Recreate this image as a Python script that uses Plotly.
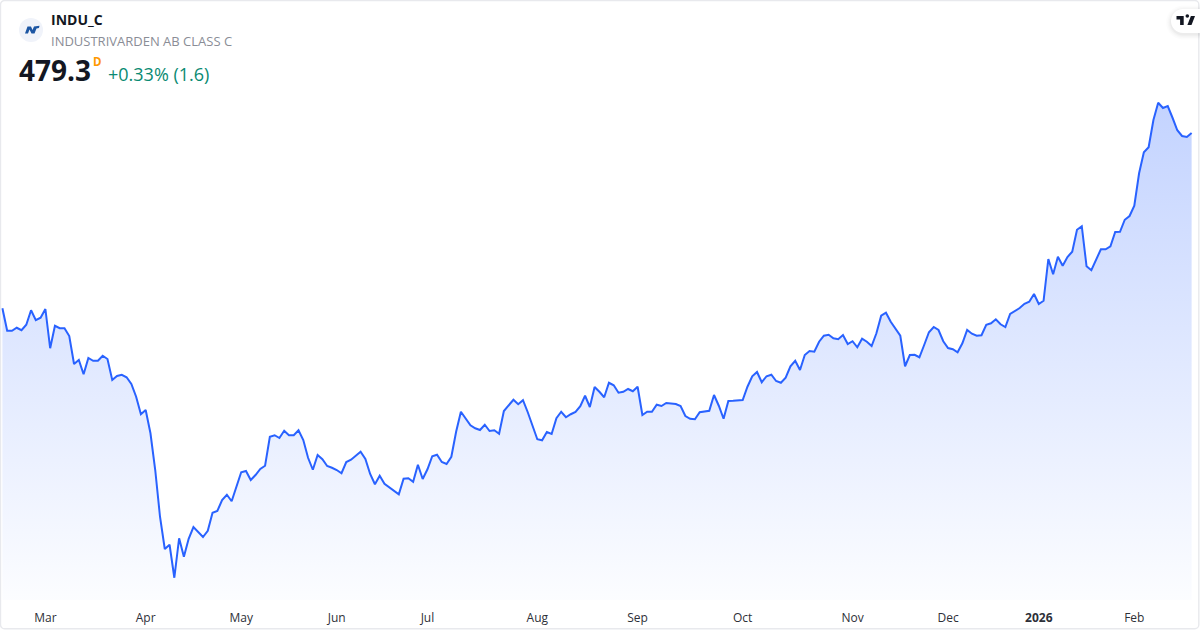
import plotly.graph_objects as go

# ---- data -------------------------------------------------------------
closes = [
    409.2, 400.2, 400.2, 401.4, 400.4, 402.6, 408.4, 404.4, 405.4, 408.9,
    393.2, 402.2, 401.2, 401.2, 398.1, 386.9, 388.5, 382.8, 389.3, 388.2,
    388.2, 390.2, 388.9, 380.5, 382.1, 382.6, 381.6, 378.9, 373.8, 366.8,
    368.5, 359.2, 344.5, 325.8, 312.9, 314.6, 301.4, 317.2, 309.8, 317.0,
    321.7, 319.7, 317.7, 320.2, 327.4, 328.1, 332.5, 334.6, 332.0, 337.8,
    343.6, 344.1, 340.5, 342.5, 344.9, 346.2, 357.8, 358.4, 357.3, 360.2,
    358.4, 358.4, 360.4,
    356.5, 349.4, 344.6, 350.5, 348.8, 346.1, 345.4, 344.5, 343.2, 347.7,
    348.6, 350.2, 351.8, 348.9, 342.9, 338.8, 342.2, 339.0, 337.6, 336.1,
    334.8, 341.0, 341.2, 339.8, 346.6, 340.9, 344.8, 350.0, 350.6, 347.7,
    346.9, 349.8, 359.8, 367.8, 365.2, 362.4, 361.2, 360.5, 362.6, 360.1,
    360.4, 359.0, 368.1, 370.2, 372.6, 370.8, 372.4, 367.6, 361.8, 356.8,
    356.4, 359.7, 358.9, 365.2, 367.8, 365.6, 366.8, 367.7, 370.0, 374.2,
    369.7, 377.7, 375.8,
    373.6, 379.4, 378.4, 375.4, 375.8, 376.9, 376.0, 377.8, 366.5, 367.8,
    367.8, 370.6, 370.1, 371.3, 371.0, 370.9, 370.1, 366.1, 365.0, 364.8,
    367.6, 367.8, 368.2, 374.5, 370.2, 365.0, 372.1, 372.2, 372.5, 372.5,
    377.8, 382.0, 383.7, 379.6, 382.0, 382.6, 380.1, 379.4, 381.4, 386.0,
    388.2, 384.5, 390.5, 392.1, 391.8, 395.8, 398.2, 398.6, 397.2, 396.8,
    398.5, 394.9, 396.0, 393.6, 397.0, 395.8, 394.1, 399.2, 406.2, 407.4,
    403.8, 401.0,
    398.2, 386.0, 390.5, 390.6, 389.6, 394.5, 399.6, 401.7, 400.5, 396.0,
    393.3, 392.8, 391.6, 395.2, 400.5, 399.0, 398.2, 398.4, 402.6, 403.2,
    404.8, 402.8, 401.7, 406.9, 408.0, 409.3, 411.0, 411.8, 414.9, 410.9,
    412.2, 428.9, 422.8, 429.8, 426.2, 429.7, 431.8, 440.6, 442.0, 426.0,
    424.4, 428.5, 432.8, 432.8, 434.0, 439.7, 439.8, 444.6, 446.1, 450.2,
    463.2, 471.6, 473.6, 484.5, 491.4, 489.3, 490.1, 485.4, 480.4, 478.1,
    477.7, 479.3,
]
bar_index = list(range(len(closes)))
tick_bars = [9, 30, 50, 70, 89, 112, 133, 155, 178, 198, 217, 237]
tick_labels = ["Mar", "Apr", "May", "Jun", "Jul", "Aug", "Sep", "Oct", "Nov", "Dec", "<b>2026</b>", "Feb"]

# ---- page geometry ----------------------------------------------------
W, H, PLOT_H = 1200, 630, 600
FONT = "Open Sans"
BAR = 4.776
X0 = 2.4


def px(x):
    return x / W


def py(y):
    return 1 - y / PLOT_H


def poly(points):
    parts = [f"{'M' if i == 0 else 'L'} {px(x):.5f} {py(y):.5f}" for i, (x, y) in enumerate(points)]
    return " ".join(parts) + " Z"


def rounded(x0, y0, x1, y1, r):
    k = 0.45 * r
    return (
        f"M {px(x0+r):.5f} {py(y0):.5f} L {px(x1-r):.5f} {py(y0):.5f} "
        f"C {px(x1-k):.5f} {py(y0):.5f} {px(x1):.5f} {py(y0+k):.5f} {px(x1):.5f} {py(y0+r):.5f} "
        f"L {px(x1):.5f} {py(y1-r):.5f} "
        f"C {px(x1):.5f} {py(y1-k):.5f} {px(x1-k):.5f} {py(y1):.5f} {px(x1-r):.5f} {py(y1):.5f} "
        f"L {px(x0+r):.5f} {py(y1):.5f} "
        f"C {px(x0+k):.5f} {py(y1):.5f} {px(x0):.5f} {py(y1-k):.5f} {px(x0):.5f} {py(y1-r):.5f} "
        f"L {px(x0):.5f} {py(y0+r):.5f} "
        f"C {px(x0):.5f} {py(y0+k):.5f} {px(x0+k):.5f} {py(y0):.5f} {px(x0+r):.5f} {py(y0):.5f} Z"
    )


fig = go.Figure()
fig.add_trace(go.Scatter(
    x=bar_index, y=closes, mode="lines",
    line=dict(color="#2962FF", width=2, shape="linear"),
    fill="tozeroy",
    fillgradient=dict(
        type="vertical",
        start=292.5,
        stop=532.5 - 0.4 * 100,
        colorscale=[[0, "rgba(41,98,255,0.015)"], [1, "rgba(41,98,255,0.28)"]],
    ),
    hoverinfo="skip",
    showlegend=False,
))

shapes = []
# card border
shapes.append(dict(type="path", xref="paper", yref="paper", path=rounded(0.5, 0.5, 1198.8, 628.8, 4),
                   line=dict(color="#E8E9ED", width=1.4), fillcolor="rgba(0,0,0,0)", layer="above"))
# symbol logo
shapes.append(dict(type="circle", xref="paper", yref="paper", x0=px(19), x1=px(43), y0=py(42), y1=py(18),
                   fillcolor="#F0F3FA", line=dict(width=0), layer="above"))
shapes.append(dict(type="path", xref="paper", yref="paper",
                   path=poly([(25, 33.5), (27.5, 26.5), (31, 26.5), (32.5, 30), (34, 26.5), (39.5, 25.8),
                               (39, 28), (36.5, 28.5), (34.5, 33.5), (31.5, 33.5), (29.5, 29.5), (28, 33.5)]),
                   fillcolor="#1C56A3", line=dict(width=0), layer="above"))
# attribution pill, soft shadow first
for grow, alpha in ((5, 0.01), (3.5, 0.014), (2.2, 0.02), (1, 0.028)):
    shapes.append(dict(type="path", xref="paper", yref="paper",
                       path=rounded(1171 - grow, 9 - grow + 1.5, 1212 + grow, 33 + grow + 1.5, 12 + grow),
                       fillcolor=f"rgba(0,0,0,{alpha})", line=dict(width=0), layer="above"))
shapes.append(dict(type="path", xref="paper", yref="paper", path=rounded(1171, 9, 1212, 33, 12),
                   fillcolor="#FFFFFF", line=dict(width=0), layer="above"))
TVX, TVY, TVS = 1175.3, 12.4, 0.6
for pts in (
    [(2, 6), (14, 6), (14, 21), (8, 21), (8, 12), (2, 12)],
    [(27, 21), (20.14, 21), (26, 6), (32.86, 6)],
):
    shapes.append(dict(type="path", xref="paper", yref="paper",
                       path=poly([(TVX + a * TVS, TVY + b * TVS) for a, b in pts]),
                       fillcolor="#131722", line=dict(width=0), layer="above"))
shapes.append(dict(type="circle", xref="paper", yref="paper",
                   x0=px(TVX + 17 * TVS), x1=px(TVX + 23 * TVS),
                   y0=py(TVY + 9 * TVS), y1=py(TVY + 3 * TVS),
                   fillcolor="#131722", line=dict(width=0), layer="above"))


def label(text, x, y, size, color, bold=False):
    return dict(xref="paper", yref="paper", x=px(x), y=py(y), xanchor="left", yanchor="middle",
                showarrow=False, text=f"<b>{text}</b>" if bold else text,
                font=dict(family=FONT, size=size, color=color), align="left",
                borderpad=0, borderwidth=0)


annotations = [
    label("INDU_C", 51, 20, 14, "#131722", True),
    label("INDUSTRIVARDEN AB CLASS C", 51, 40.5, 13, "#8A8D96"),
    label("479.3", 19, 70, 28, "#131722", True),
    label("D", 93, 61, 11.5, "#FF9800", True),
    label("+0.33% (1.6)", 108, 74, 18, "#0A8A72"),
]

fig.update_layout(
    width=W, height=H,
    margin=dict(l=0, r=0, t=0, b=H - PLOT_H, pad=0),
    paper_bgcolor="#FFFFFF", plot_bgcolor="#FFFFFF",
    font=dict(family=FONT),
    shapes=shapes, annotations=annotations,
    showlegend=False,
    xaxis=dict(
        range=[-X0 / BAR, (W - X0) / BAR],
        tickmode="array", tickvals=tick_bars, ticktext=tick_labels,
        showgrid=False, zeroline=False, showline=False, ticks="",
        tickangle=0, ticklabelstandoff=9,
        tickfont=dict(family=FONT, size=12, color="#2E3038"),
        fixedrange=True,
    ),
    yaxis=dict(
        range=[292.5, 532.5], visible=False, showgrid=False, zeroline=False, fixedrange=True,
    ),
)

fig.write_html("out.html", config={"displayModeBar": False},
               post_script="document.body.style.margin='0';")
